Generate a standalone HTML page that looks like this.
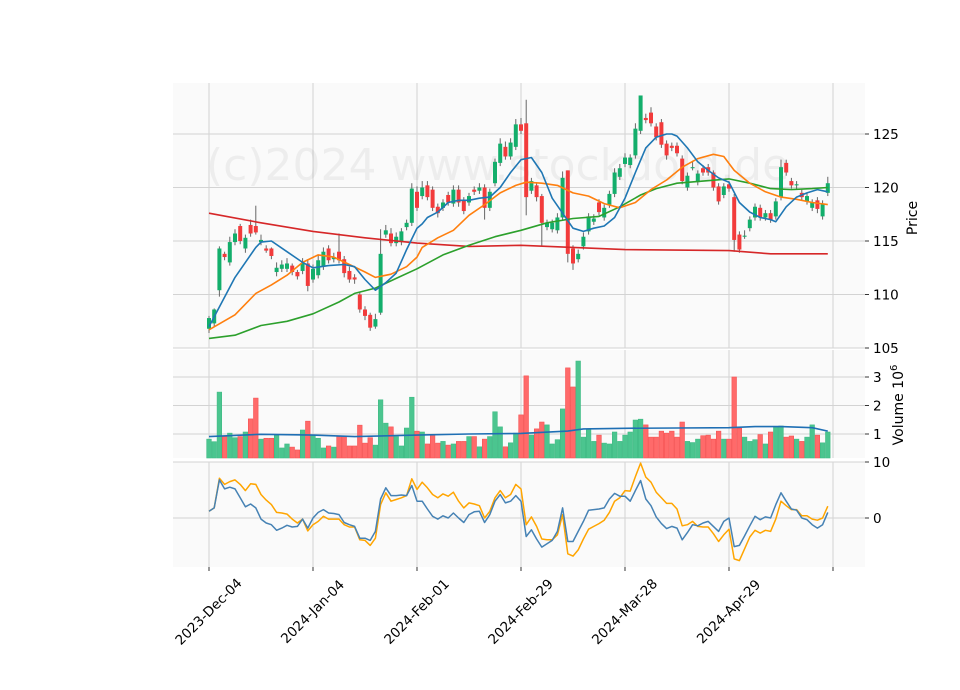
<!DOCTYPE html>
<html><head><meta charset="utf-8"><style>
html,body{margin:0;padding:0;background:#fff;}
svg{display:block;font-family:"DejaVu Sans","Liberation Sans",sans-serif;}
</style></head><body>
<svg id="chart" width="960" height="690" viewBox="0 0 960 690" xmlns="http://www.w3.org/2000/svg">
<rect x="173" y="83" width="692" height="265" fill="#fafafa"/>
<rect x="173" y="350" width="692" height="108" fill="#fafafa"/>
<rect x="173" y="462" width="692" height="105" fill="#fafafa"/>
<g id="grid"></g>
<text x="206" y="180" font-size="44" fill="#000" fill-opacity="0.05">(c)2024 www.stockdold.de</text>
<g id="marks"></g>
<g id="axes"></g>
<text transform="translate(917,218) rotate(-90)" font-size="14" text-anchor="middle">Price</text>
<text transform="translate(903,405) rotate(-90)" font-size="14" text-anchor="middle">Volume  10<tspan font-size="10" dy="-6">6</tspan></text>
</svg>
<script>
const dateTicks = ["2023-Dec-04","2024-Jan-04","2024-Feb-01","2024-Feb-29","2024-Mar-28","2024-Apr-29",""];
const dateTickIdx = [0,20,40,60,80,100,120];
const priceTicks = [105,110,115,120,125];
const volTicks = [1,2,3];
const oscTicks = [0,10];
const opens = [106.8,107.3,110.4,113.8,113.0,114.9,116.4,114.3,116.5,116.4,114.9,114.3,114.3,112.1,112.4,112.4,112.7,112.1,112.2,112.9,111.4,111.8,112.6,114.3,113.3,114.0,113.3,112.2,111.6,110.0,108.6,108.1,107.0,108.3,115.6,115.7,114.8,114.9,116.3,116.7,119.6,119.2,120.2,119.8,118.2,118.1,119.3,118.5,119.8,118.8,118.6,119.8,119.7,120.0,118.1,120.4,122.3,123.8,122.9,123.8,125.9,126.0,119.7,120.2,119.2,116.3,116.1,116.0,117.2,121.6,114.3,113.3,114.5,115.9,116.8,118.6,117.2,118.4,119.4,121.0,122.2,122.1,123.0,125.3,126.5,127.0,125.7,126.1,124.1,123.9,123.9,122.7,120.0,121.8,120.5,121.8,121.9,121.4,120.1,119.3,120.3,119.1,115.6,115.4,116.2,117.2,118.1,117.2,117.6,117.3,119.1,122.3,120.6,120.2,119.5,118.7,118.1,118.8,117.3,119.5];
const closes = [107.8,108.6,114.3,113.5,114.9,115.7,115.0,115.3,115.7,115.8,115.1,114.1,113.6,112.5,112.8,112.9,112.1,111.7,112.9,110.8,112.4,113.2,114.0,113.2,113.5,113.2,112.0,111.4,111.4,108.6,108.0,106.9,107.7,113.8,116.0,114.8,115.4,115.9,116.7,119.9,118.1,120.0,119.1,118.1,117.6,118.6,118.6,119.8,118.6,117.8,119.2,119.6,120.0,118.1,119.6,122.4,124.1,122.9,124.2,125.9,125.3,119.1,120.6,119.1,116.7,116.7,116.7,117.2,120.9,113.8,112.9,113.8,115.4,117.3,117.1,117.7,118.1,119.4,121.4,121.8,122.8,122.8,125.5,128.6,126.3,126.0,124.7,124.0,123.0,123.7,123.2,120.6,121.1,121.9,121.3,121.4,121.4,120.0,118.7,120.1,119.9,115.1,114.2,115.5,117.0,118.2,117.2,117.6,117.0,118.7,121.9,121.4,120.2,120.3,119.1,119.2,118.6,118.0,118.5,120.4];
const highs = [108.0,108.7,114.5,114.0,115.4,116.1,116.6,115.6,117.0,118.3,115.6,114.6,114.4,113.0,113.2,113.4,112.9,112.3,113.4,113.3,112.8,113.7,114.4,114.6,113.9,115.7,113.6,112.6,111.9,110.2,108.9,108.3,108.2,116.1,116.5,116.2,115.8,116.2,117.0,120.4,120.1,120.6,120.6,120.1,118.5,118.9,119.6,120.2,120.2,119.1,119.5,120.1,120.4,120.3,119.9,122.7,124.6,124.3,124.6,126.4,126.5,128.2,120.9,120.5,119.4,117.0,117.0,117.6,121.5,121.6,114.6,114.2,115.8,117.6,117.5,118.9,118.4,119.7,121.8,122.2,123.2,123.1,126.0,128.6,126.9,127.5,126.0,126.4,124.4,124.2,124.2,123.0,121.4,122.5,121.6,122.1,122.2,121.6,120.4,120.4,120.6,119.4,115.9,116.0,117.3,118.5,118.4,117.9,117.9,119.0,122.6,122.6,120.9,120.6,119.8,119.5,118.9,119.1,118.8,121.0];
const lows = [106.4,107.0,109.8,113.2,112.7,114.6,114.7,113.9,115.4,115.6,114.6,113.9,113.3,111.7,112.1,112.1,111.8,111.4,111.9,110.3,111.1,111.5,112.3,112.9,113.0,112.9,111.6,111.1,111.0,108.3,107.6,106.6,106.8,108.1,115.3,114.5,114.5,114.6,116.0,116.4,117.8,118.9,118.8,117.8,117.2,117.8,118.3,118.2,118.2,117.5,118.3,119.3,119.4,117.0,117.8,120.1,122.0,122.6,122.6,123.5,125.0,117.4,119.4,118.7,114.5,116.0,115.8,115.7,116.9,113.0,112.3,113.0,114.2,115.6,116.5,117.4,116.9,118.1,119.1,120.7,121.9,121.8,122.7,125.0,126.0,125.7,124.4,123.7,122.6,123.4,122.9,120.3,119.7,121.6,120.2,121.1,121.1,119.7,118.4,119.0,119.6,114.0,113.9,115.2,115.9,116.9,116.9,116.9,116.7,117.0,118.8,121.1,119.9,119.9,118.8,118.4,117.8,117.6,117.0,119.2];
const volumes = [0.82,0.73,2.47,0.91,1.03,0.87,0.91,1.07,1.53,2.26,0.82,0.85,0.85,0.96,0.51,0.65,0.54,0.44,1.14,1.45,0.96,0.85,0.51,0.58,0.54,0.91,0.91,0.58,0.58,1.31,0.68,0.87,0.61,2.20,1.38,1.25,0.91,0.58,1.21,2.29,1.10,1.07,0.65,0.96,0.68,0.74,0.61,0.65,0.74,0.74,0.91,0.91,0.55,0.82,0.91,1.78,1.25,0.55,0.69,1.03,1.67,3.04,0.96,1.18,1.42,1.32,0.65,0.80,1.88,3.32,2.65,3.56,0.89,1.18,0.74,0.96,0.68,0.65,1.07,0.74,0.96,1.07,1.49,1.52,1.32,0.89,0.89,1.10,1.03,1.10,0.89,1.42,0.74,0.70,0.82,0.94,0.96,0.82,1.10,0.82,0.82,3.00,1.20,0.89,0.74,0.80,0.98,0.65,1.07,1.27,1.28,0.89,0.93,0.82,0.74,0.89,1.32,0.96,0.69,1.07];
const volMaIdx = [0,10,20,28,40,50,60,69,72,80,90,100,105,110,116,119];
const volMaVals = [0.91,0.99,0.96,0.91,0.96,1.00,1.02,1.10,1.18,1.20,1.21,1.22,1.26,1.26,1.22,1.10];
const ma5Idx = [0,5,9,10,12,15,18,20,23,26,28,30,32,34,36,38,40,41,42,44,46,48,50,52,54,56,58,60,62,64,66,68,70,72,74,76,78,80,82,84,86,88,89,90,92,94,96,98,100,102,104,106,108,109,111,113,115,117,119];
const ma5Vals = [107.0,111.6,114.4,114.9,115.0,114.0,113.0,112.5,112.7,112.8,112.6,111.4,110.4,111.1,112.0,114.2,116.2,116.6,117.2,117.7,118.6,118.8,118.8,119.0,119.1,120.0,121.4,122.6,122.8,121.4,119.0,117.6,116.2,115.9,116.2,116.4,117.2,119.0,121.4,123.7,124.7,125.0,125.0,124.8,123.7,122.4,121.6,120.9,120.5,118.6,117.7,117.2,117.0,116.8,118.2,119.1,119.5,119.8,119.6];
const ma20Idx = [0,5,9,12,15,18,21,24,27,30,32,35,38,40,41,44,47,50,53,56,59,61,64,67,70,73,76,79,82,85,88,91,94,97,99,101,104,107,110,113,116,119];
const ma20Vals = [106.7,108.1,110.1,110.9,111.8,113.0,113.7,113.5,112.8,112.1,111.6,111.9,112.6,113.5,114.4,115.3,116.0,117.4,118.4,119.5,120.2,120.5,120.4,120.2,119.5,119.2,118.5,118.1,118.6,119.8,120.7,121.9,122.7,123.1,122.9,121.6,120.4,119.6,119.1,118.9,118.6,118.4];
const ma50Idx = [0,5,10,15,20,25,28,32,36,40,45,50,55,60,65,70,75,79,83,86,90,95,100,104,108,112,116,119];
const ma50Vals = [105.9,106.2,107.1,107.5,108.2,109.3,110.1,110.6,111.5,112.4,113.7,114.6,115.4,116.0,116.7,117.1,117.3,118.2,119.3,119.9,120.4,120.6,120.8,120.4,119.9,119.8,119.9,120.0];
const ma200Idx = [0,10,20,30,40,50,60,80,100,108,119];
const ma200Vals = [117.6,116.7,115.9,115.3,114.8,114.5,114.6,114.2,114.1,113.8,113.8];
const oscA = [1.2,1.8,6.8,5.2,5.5,5.2,3.6,2.0,2.5,1.8,-0.2,-0.9,-1.2,-2.2,-1.8,-1.3,-1.6,-1.5,-0.2,-1.8,0,1.0,1.5,0.9,0.8,0.6,-0.8,-1.2,-1.5,-3.6,-3.6,-4.0,-2.4,3.4,5.4,4.0,4.0,4.1,4.0,5.8,3.0,3.0,1.6,0.3,-0.2,0.4,0,0.9,0,-0.8,0.6,1.1,1.2,-0.8,0.6,3.0,4.2,2.7,3.0,4.0,3.0,-3.3,-2.1,-3.75,-5.2,-4.6,-4.0,-2.4,1.8,-4.2,-4.2,-2.4,-0.6,1.4,1.5,1.6,1.8,3.4,4.4,3.9,3.9,3.0,4.9,6.7,3.4,2.2,0.2,-1.0,-1.9,-1.5,-1.8,-3.9,-2.6,-1.2,-1.4,-0.9,-0.6,-1.5,-2.4,-0.6,0,-5.1,-4.9,-3.2,-1.4,0.3,-0.3,0.2,0,2.4,4.5,3.0,1.6,1.4,0,-0.3,-1.2,-1.8,-1.2,1.0];
const oscB = [1.2,1.8,7.1,6.0,6.5,6.8,6.0,4.9,6.1,6.0,4.2,3.2,2.4,1.0,0.9,0.7,-0.2,-0.9,-0.2,-2.3,-1.2,-0.6,0.3,-0.2,-0.2,-0.2,-1.2,-1.6,-1.6,-3.9,-4.0,-4.9,-3.6,2.4,4.5,3.0,3.3,3.6,4.0,7.0,5.1,6.4,5.4,4.2,3.6,4.3,3.9,4.6,3.0,1.8,2.7,2.5,2.2,0,1.2,3.6,4.9,3.6,4.2,6.0,5.2,-1.2,0.2,-1.5,-3.75,-3.9,-3.9,-3.0,0.6,-6.4,-6.8,-5.7,-3.75,-2.0,-1.5,-1.0,-0.4,1.0,3.0,3.6,4.9,4.8,7.4,9.8,7.3,6.4,4.6,3.6,2.6,2.6,1.6,-1.4,-1.2,-0.6,-1.5,-1.6,-1.6,-2.8,-4.2,-3.0,-2.0,-7.3,-7.6,-5.5,-3.4,-2.2,-2.7,-2.2,-2.4,-0.2,3.0,2.2,1.5,1.5,0.4,0.4,-0.2,-0.4,0,2.1];

const NS="http://www.w3.org/2000/svg";
const X0=209, STEP=5.2;
const xs=i=>X0+STEP*i;
const yP=p=>348-(p-105)*10.7;
const yV=v=>462.5-28.5*v;
const yO=v=>518-5.6*v;
function mk(tag,attrs,parent){const e=document.createElementNS(NS,tag);for(const k in attrs)e.setAttribute(k,attrs[k]);parent.appendChild(e);return e;}
const grid=document.getElementById('grid'),marks=document.getElementById('marks'),axes=document.getElementById('axes');
const GC="#d3d3d3";
dateTickIdx.forEach((ti,k)=>{const x=xs(ti);
 [[83,348],[350,458],[462,567]].forEach(r=>{const l=mk('line',{x1:x,x2:x,y1:r[0],y2:r[1],stroke:GC,'stroke-width':1},grid);
 
 });
 const t=mk('line',{x1:x,x2:x,y1:567,y2:571,stroke:'#000','stroke-width':0.8},axes);
 
 
 if(dateTicks[k]){const tx=mk('text',{transform:`translate(${x},${612}) rotate(-45)`,'text-anchor':'middle','font-size':13.5,'dominant-baseline':'central'},axes);
 
 
 tx.textContent=dateTicks[k];}
});
function yTick(y,label,name){
 const g=mk('line',{x1:173,x2:865,y1:y,y2:y,stroke:GC,'stroke-width':1},grid);
 
 
 const t=mk('line',{x1:865,x2:869,y1:y,y2:y,stroke:'#000','stroke-width':0.8},axes);
 
 
 const tx=mk('text',{x:873,y:y+5,'font-size':13.5},axes);
 
 
 tx.textContent=label;
}
priceTicks.forEach(p=>yTick(yP(p),String(p),'price'));
volTicks.forEach(v=>yTick(yV(v),String(v),'volume'));
oscTicks.forEach(v=>yTick(yO(v),String(v),'oscillator'));
const UP="#13ae6b",DN="#f23b3b";
closes.forEach((c,i)=>{const o=opens[i];const up=c>=o;const x=xs(i);
 const w=mk('line',{x1:x,x2:x,y1:yP(highs[i]),y2:yP(lows[i]),stroke:'#666','stroke-width':1},marks);
 
 
 const top=yP(Math.max(o,c)),bot=yP(Math.min(o,c));
 const b=mk('rect',{x:x-2,y:top,width:4,height:Math.max(1,bot-top),fill:up?UP:DN},marks);
 
 
 const vy=Math.max(350,yV(volumes[i]));
 const vb=mk('rect',{x:x-2.3,y:vy,width:4.6,height:458-vy,fill:up?'#4bc58f':'#ff6a6a',stroke:up?'#3fbb84':'#f55454','stroke-width':0.6},marks);
 
 
});
function line(idx,vals,yf,color,name,w){
 const pts=vals.map((v,k)=>xs(idx?idx[k]:k).toFixed(1)+','+yf(v).toFixed(1)).join(' ');
 const p=mk('polyline',{points:pts,fill:'none',stroke:color,'stroke-width':w||1.6,'stroke-linejoin':'round'},marks);
 
 
}
line(ma200Idx,ma200Vals,yP,'#d62728','ma200-line');
line(ma50Idx,ma50Vals,yP,'#2ca02c','ma50-line');
line(ma20Idx,ma20Vals,yP,'#ff7f0e','ma20-line');
line(ma5Idx,ma5Vals,yP,'#1f77b4','ma5-line');
line(volMaIdx,volMaVals,yV,'#1f6fb4','volume-ma-line');
line(null,oscB,yO,'#ffa500','oscillator-signal-line',1.5);
line(null,oscA,yO,'#4682b4','oscillator-line',1.5);
</script>
</body></html>
